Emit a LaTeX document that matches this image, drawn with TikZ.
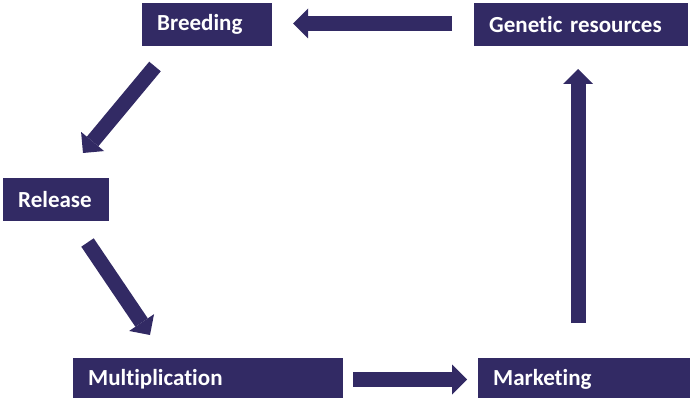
\documentclass[tikz,border=0pt]{standalone}
\usepackage{fontspec}
\setmainfont[Ligatures=NoCommon]{Carlito}
\usetikzlibrary{arrows.meta}
\definecolor{boxpurple}{RGB}{50,42,100}
\begin{document}
\begin{tikzpicture}[x=1pt,y=-1pt,
  box/.style={fill=boxpurple,text=white,font=\bfseries\fontsize{23}{26}\selectfont,
    anchor=north west,inner xsep=15pt,inner ysep=0pt,minimum height=43pt,align=left},
  blockarrow/.style={draw=boxpurple,line width=15pt,
    -{Triangle[length=15pt,width=30pt,line width=0pt,fill=boxpurple]}}]
\useasboundingbox (0,0) rectangle (690,398);
\node[box,text width=100pt] (breed) at (142,2.5) {Breeding};
\node[box,text width=184pt] (gen) at (474,2.5) {Genetic resources};
\node[box,text width=76pt] (rel) at (3,178) {Release};
\node[box,text width=240pt] (mult) at (73,358) {Multiplication};
\node[box,text width=200pt] (mark) at (478,358) {Marketing};
\coordinate (a1s) at (452,23.5);
\coordinate (a1e) at (293,23.5);
\coordinate (a2s) at (155,66.5);
\coordinate (a2e) at (83,153);
\coordinate (a3s) at (87.5,242.5);
\coordinate (a3e) at (150,335);
\coordinate (a4s) at (353,379.5);
\coordinate (a4e) at (467,379.5);
\coordinate (a5s) at (578,323);
\coordinate (a5e) at (578,69);
\draw[blockarrow] (a1s) -- (a1e);
\draw[blockarrow] (a2s) -- (a2e);
\draw[blockarrow] (a3s) -- (a3e);
\draw[blockarrow] (a4s) -- (a4e);
\draw[blockarrow] (a5s) -- (a5e);
\end{tikzpicture}
\end{document}
